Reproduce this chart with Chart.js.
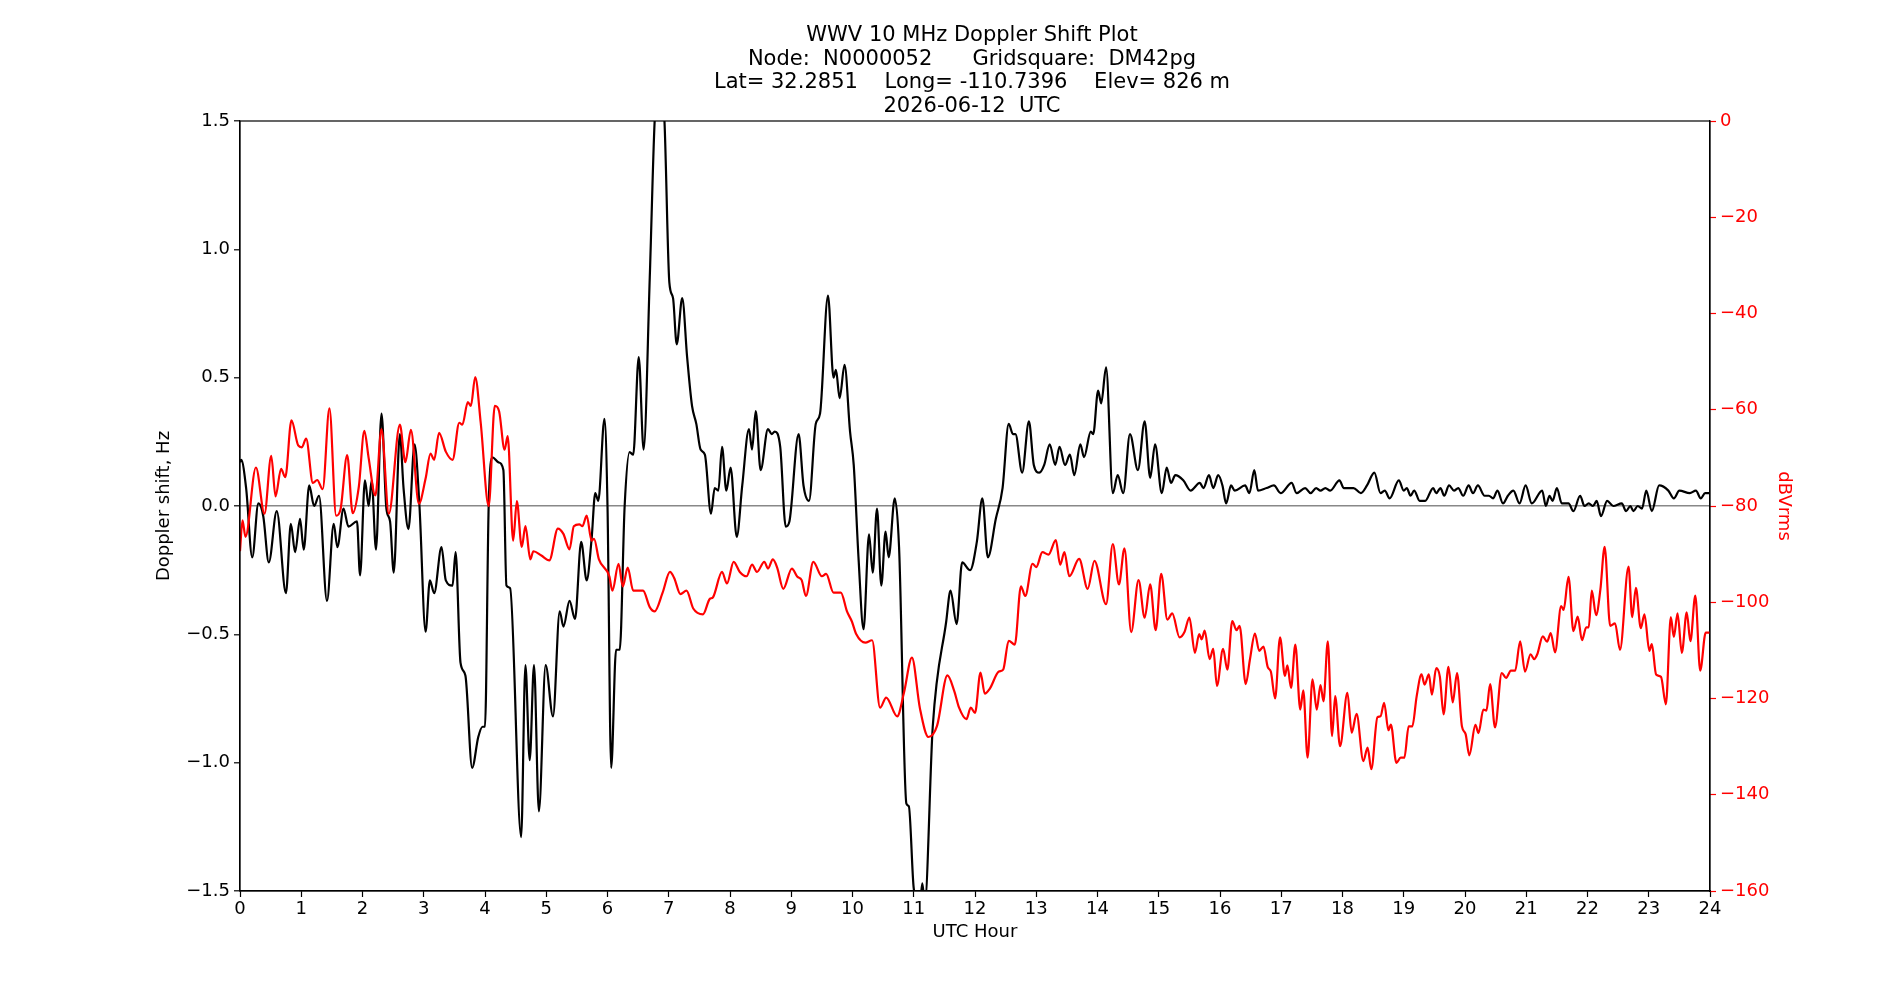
<!DOCTYPE html>
<html>
<head>
<meta charset="utf-8">
<script src="https://cdn.jsdelivr.net/npm/chart.js@4.4.1/dist/chart.umd.min.js"></script>
<style>
  body { margin: 0; background: #fff; }
  #wrap { position: relative; width: 1900px; height: 1000px; }
  #title { position: absolute; left: 672px; width: 600px; top: 23px; text-align: center;
           font-family: "DejaVu Sans", sans-serif; font-size: 21px; line-height: 23.5px; color: #000; }
  canvas { position: absolute; left: 0; top: 0; }
</style>
</head>
<body>
<div id="wrap">
  <canvas id="dopplerChart" width="1900" height="1000"></canvas>
  <div id="title">WWV 10 MHz Doppler Shift Plot<br>Node:&nbsp; N0000052 &nbsp;&nbsp;&nbsp;&nbsp; Gridsquare:&nbsp; DM42pg<br>Lat= 32.2851 &nbsp;&nbsp;&nbsp;Long= -110.7396 &nbsp;&nbsp;&nbsp;Elev= 826 m<br>2026-06-12&nbsp; UTC</div>
</div>
<script>
// Doppler shift (Hz)
const dopHours = [0.0,0.02,0.1,0.2,0.3,0.38,0.47,0.6,0.75,0.83,0.9,0.98,1.04,1.13,1.21,1.29,1.42,1.53,1.59,1.69,1.77,1.91,1.96,2.04,2.1,2.15,2.22,2.31,2.39,2.45,2.51,2.61,2.67,2.75,2.85,2.93,3.03,3.1,3.17,3.29,3.36,3.47,3.52,3.6,3.68,3.79,3.89,3.96,4.0,4.06,4.12,4.22,4.3,4.35,4.41,4.59,4.66,4.73,4.8,4.88,4.99,5.11,5.22,5.28,5.38,5.47,5.57,5.66,5.74,5.8,5.85,5.95,6.0,6.06,6.14,6.2,6.28,6.36,6.42,6.51,6.59,6.69,6.77,6.85,6.93,7.01,7.07,7.13,7.22,7.3,7.38,7.45,7.52,7.59,7.69,7.75,7.81,7.87,7.94,8.01,8.11,8.2,8.31,8.36,8.42,8.5,8.62,8.68,8.73,8.82,8.91,8.97,9.12,9.2,9.29,9.4,9.47,9.6,9.69,9.73,9.79,9.87,9.96,10.02,10.1,10.18,10.27,10.33,10.4,10.47,10.54,10.59,10.69,10.76,10.88,10.92,11.0,11.1,11.14,11.18,11.31,11.53,11.6,11.7,11.79,11.92,12.03,12.12,12.21,12.34,12.45,12.55,12.62,12.66,12.77,12.88,12.96,13.05,13.13,13.22,13.31,13.38,13.47,13.55,13.62,13.72,13.78,13.89,13.93,14.01,14.06,14.14,14.25,14.33,14.42,14.53,14.66,14.77,14.86,14.94,15.05,15.13,15.2,15.27,15.4,15.52,15.67,15.73,15.82,15.89,15.97,16.04,16.1,16.18,16.24,16.41,16.48,16.56,16.62,16.76,16.88,16.99,17.17,17.25,17.39,17.48,17.57,17.64,17.72,17.8,17.95,18.02,18.18,18.3,18.4,18.52,18.62,18.69,18.77,18.92,19.0,19.05,19.11,19.17,19.26,19.35,19.48,19.53,19.6,19.66,19.74,19.82,19.89,19.97,20.06,20.13,20.21,20.32,20.39,20.46,20.53,20.62,20.7,20.79,20.89,20.99,21.09,21.26,21.32,21.38,21.43,21.5,21.58,21.69,21.77,21.88,21.95,22.02,22.09,22.15,22.22,22.32,22.42,22.56,22.63,22.7,22.75,22.82,22.89,22.96,23.05,23.17,23.32,23.41,23.5,23.67,23.77,23.85,23.92,24.0];
const dopShift = [0.17,0.18,0.07,-0.2,0.01,-0.04,-0.22,-0.02,-0.34,-0.07,-0.18,-0.05,-0.17,0.08,0.0,0.04,-0.37,-0.07,-0.16,-0.01,-0.08,-0.06,-0.27,0.1,0.0,0.1,-0.17,0.36,-0.01,-0.06,-0.26,0.28,0.07,-0.09,0.24,0.0,-0.49,-0.29,-0.34,-0.16,-0.29,-0.31,-0.18,-0.61,-0.66,-1.02,-0.9,-0.86,-0.86,0.0,0.19,0.17,0.14,-0.31,-0.32,-1.29,-0.62,-0.99,-0.62,-1.19,-0.62,-0.82,-0.41,-0.47,-0.37,-0.44,-0.14,-0.29,-0.13,0.05,0.02,0.34,0.0,-1.02,-0.56,-0.56,0.0,0.21,0.2,0.58,0.22,0.89,1.5,1.7,1.5,0.87,0.81,0.63,0.81,0.58,0.39,0.32,0.22,0.2,-0.03,0.07,0.06,0.23,0.06,0.15,-0.12,0.08,0.3,0.22,0.37,0.14,0.3,0.28,0.29,0.23,-0.08,-0.06,0.28,0.08,0.02,0.32,0.36,0.82,0.5,0.53,0.42,0.55,0.29,0.16,-0.21,-0.48,-0.11,-0.26,-0.01,-0.31,-0.1,-0.2,0.03,-0.16,-1.16,-1.17,-1.49,-1.55,-1.47,-1.55,-0.86,-0.45,-0.33,-0.46,-0.22,-0.25,-0.14,0.03,-0.2,-0.05,0.07,0.32,0.28,0.28,0.13,0.33,0.16,0.13,0.16,0.24,0.16,0.23,0.16,0.2,0.12,0.24,0.19,0.29,0.28,0.45,0.4,0.54,0.05,0.12,0.05,0.28,0.14,0.33,0.11,0.24,0.05,0.15,0.09,0.12,0.1,0.06,0.09,0.07,0.12,0.07,0.12,0.08,0.01,0.08,0.06,0.08,0.05,0.14,0.06,0.07,0.08,0.05,0.09,0.05,0.07,0.05,0.07,0.06,0.07,0.06,0.1,0.07,0.07,0.05,0.08,0.13,0.05,0.06,0.03,0.1,0.06,0.07,0.04,0.06,0.02,0.02,0.07,0.05,0.07,0.04,0.08,0.06,0.07,0.04,0.08,0.05,0.08,0.04,0.04,0.03,0.06,0.01,0.04,0.06,0.01,0.08,0.01,0.06,0.0,0.04,0.02,0.07,0.01,0.01,-0.02,0.04,0.0,0.01,0.0,0.02,-0.04,0.02,0.0,0.01,-0.02,0.0,-0.02,0.0,-0.01,0.06,-0.02,0.08,0.06,0.03,0.06,0.05,0.06,0.03,0.05,0.05];

// Received power (dBVrms)
const pwrHours = [0.0,0.04,0.09,0.26,0.4,0.51,0.58,0.67,0.74,0.84,0.95,1.01,1.08,1.19,1.26,1.35,1.46,1.57,1.64,1.75,1.84,1.94,2.03,2.1,2.21,2.31,2.43,2.61,2.7,2.79,2.92,3.03,3.11,3.17,3.25,3.36,3.47,3.58,3.63,3.72,3.77,3.84,3.93,4.06,4.16,4.23,4.32,4.37,4.46,4.52,4.6,4.66,4.74,4.79,4.92,5.05,5.19,5.28,5.38,5.45,5.54,5.59,5.66,5.74,5.78,5.86,6.03,6.08,6.18,6.25,6.33,6.42,6.58,6.69,6.77,6.9,7.02,7.09,7.19,7.29,7.4,7.56,7.67,7.72,7.87,7.95,8.06,8.16,8.27,8.36,8.44,8.56,8.62,8.7,8.77,8.87,9.01,9.1,9.17,9.24,9.36,9.5,9.57,9.69,9.81,9.91,9.99,10.06,10.21,10.32,10.45,10.55,10.73,10.84,10.97,11.1,11.24,11.38,11.55,11.66,11.74,11.86,11.93,12.0,12.09,12.16,12.24,12.39,12.46,12.55,12.65,12.75,12.82,12.94,13.0,13.1,13.2,13.32,13.39,13.46,13.54,13.7,13.84,13.95,14.14,14.25,14.35,14.44,14.55,14.67,14.77,14.86,14.95,15.04,15.14,15.22,15.34,15.42,15.5,15.59,15.66,15.7,15.75,15.83,15.89,15.95,16.05,16.12,16.2,16.27,16.32,16.42,16.49,16.57,16.64,16.71,16.78,16.83,16.9,16.98,17.06,17.1,17.16,17.23,17.31,17.36,17.43,17.51,17.58,17.64,17.69,17.76,17.83,17.88,17.96,18.08,18.15,18.23,18.34,18.41,18.47,18.57,18.62,18.68,18.75,18.79,18.88,18.95,19.01,19.08,19.14,19.21,19.29,19.34,19.41,19.46,19.53,19.59,19.65,19.73,19.8,19.87,19.95,20.01,20.07,20.17,20.22,20.3,20.35,20.41,20.49,20.6,20.67,20.75,20.82,20.9,20.98,21.07,21.13,21.18,21.27,21.34,21.4,21.47,21.57,21.61,21.69,21.77,21.84,21.91,21.98,22.02,22.07,22.14,22.21,22.28,22.37,22.45,22.53,22.67,22.73,22.79,22.87,22.93,23.01,23.05,23.12,23.2,23.28,23.36,23.41,23.47,23.54,23.62,23.68,23.76,23.84,23.93,24.0];
const pwrDb = [-89.4,-83,-86.4,-72,-81.6,-69.6,-78,-72.3,-74,-62.2,-67.4,-67.8,-66,-75.2,-74.6,-76.5,-59.7,-82,-80.8,-69.4,-81.5,-76,-64.4,-70,-77.8,-64,-81.6,-63.1,-70.9,-64.2,-79.5,-74.3,-69.1,-70.4,-64.8,-68.7,-70.4,-62.7,-63.1,-58.4,-59.2,-53.2,-62.7,-80,-59.2,-60.3,-68.3,-65.5,-87.2,-79,-88.5,-84.2,-91.1,-89.4,-90.3,-91.3,-84.7,-85.8,-89,-84.2,-83.8,-84.2,-82,-87.2,-86.8,-91.1,-94.6,-97.6,-92,-96.7,-92.8,-97.6,-97.6,-101,-101.9,-98,-93.7,-95,-98.3,-97.6,-101.3,-102.5,-99.3,-99,-93.7,-96.1,-91.6,-93.7,-94.6,-92.2,-93.7,-91.6,-93,-91.1,-92.8,-97.2,-93,-94.7,-95.4,-98.7,-91.6,-94.6,-94.1,-98,-98,-101.9,-104,-106.6,-108.4,-107.9,-121.9,-119.8,-123.7,-118.8,-111.5,-122,-128,-125.7,-115.2,-118.4,-121.9,-124.3,-121.9,-123,-114.6,-119,-118,-114.4,-114,-108,-108.8,-96.7,-98.7,-92,-92.7,-89.6,-90.1,-87.1,-92.2,-89.6,-94.6,-91,-97.2,-91.4,-100.4,-87.9,-96.3,-88.8,-106.2,-95.4,-103.2,-96.3,-105.8,-94.1,-103.6,-102.3,-107.3,-106.2,-103.2,-110.5,-106.6,-107.7,-105.9,-111.8,-109.7,-117.4,-109.7,-114,-103.9,-105.8,-104.9,-117,-111.8,-106.5,-110.1,-109.2,-113.5,-114.4,-120,-107.3,-115.3,-113.1,-117.8,-108.8,-122.3,-118.3,-132.3,-116,-122.3,-117.2,-120.6,-108.1,-127.8,-119.5,-129.9,-118.8,-127.1,-123.2,-133,-130.2,-134.7,-123.9,-123.7,-120.9,-126.6,-125.4,-133.4,-132.3,-132.3,-125.8,-125.8,-119.6,-115,-117.1,-115,-119.2,-113.7,-115.5,-123.3,-113.4,-120.8,-114.7,-125.8,-127.4,-131.8,-125.5,-127.2,-122.3,-122.5,-117,-126,-114.7,-115.7,-114.2,-114.2,-108.1,-114.4,-110.8,-111.8,-110.8,-107.1,-108.2,-106.4,-110.4,-100.8,-101.6,-94.7,-106,-103,-107.9,-105.2,-105.2,-97.6,-102.7,-97.4,-88.5,-104.9,-104.4,-109.9,-92.6,-103.1,-97,-105.4,-102.5,-110.1,-108.7,-115,-115.5,-121.2,-103.1,-107.2,-102.3,-110.5,-102.1,-108.1,-98.6,-114.2,-106.3,-106.3];

const hourTicks = [0,1,2,3,4,5,6,7,8,9,10,11,12,13,14,15,16,17,18,19,20,21,22,23,24];

const FONT = { family: 'DejaVu Sans', size: 18 };
const minus = (s) => s.replace('-', '\u2212');

const frameBox = {
    id: 'frameBox',
    afterDatasetsDraw(chart) {
        const a = chart.chartArea, ctx = chart.ctx;
        ctx.save();
        ctx.strokeStyle = '#000';
        ctx.lineWidth = 1.2;
        ctx.strokeRect(a.left, a.top, a.right - a.left, a.bottom - a.top);
        ctx.restore();
    }
};

function initChart() {
    const ctx = document.getElementById('dopplerChart').getContext('2d');
    new Chart(ctx, {
        type: 'line',
        data: {
            datasets: [{
                label: 'Doppler shift',
                data: dopHours.map((h, i) => ({ x: h, y: dopShift[i] })),
                borderColor: '#000',
                borderWidth: 2.2,
                pointRadius: 0,
                cubicInterpolationMode: 'monotone',
                yAxisID: 'y',
                order: 2
            }, {
                label: 'dBVrms',
                data: pwrHours.map((h, i) => ({ x: h, y: pwrDb[i] })),
                borderColor: '#ff0000',
                borderWidth: 2.2,
                pointRadius: 0,
                cubicInterpolationMode: 'monotone',
                yAxisID: 'y2',
                order: 1
            }]
        },
        options: {
            responsive: false,
            animation: false,
            layout: { padding: { left: 150, right: 102, top: 121, bottom: 57 } },
            plugins: { legend: { display: false }, tooltip: { enabled: false } },
            scales: {
                x: {
                    type: 'linear', min: 0, max: 24,
                    afterBuildTicks: (s) => { s.ticks = hourTicks.map(v => ({ value: v })); },
                    afterFit: (s) => { s.height = 52; },
                    grid: { drawOnChartArea: false, tickLength: 6, tickColor: '#000', tickWidth: 1.2 },
                    border: { color: '#000', width: 1.2 },
                    ticks: { color: '#000', font: FONT, padding: 2, maxRotation: 0 },
                    title: { display: true, text: 'UTC Hour', color: '#000', font: FONT, padding: 0 }
                },
                y: {
                    position: 'left', min: -1.5, max: 1.5,
                    afterFit: (s) => { s.width = 90; },
                    grid: {
                        drawOnChartArea: true,
                        color: (c) => (c.tick && c.tick.value === 0) ? '#888888' : 'rgba(0,0,0,0)',
                        lineWidth: 1.6,
                        tickLength: 6, tickColor: '#000', tickWidth: 1.2
                    },
                    border: { color: '#000', width: 1.2 },
                    ticks: { stepSize: 0.5, color: '#000', font: FONT, padding: 4,
                             callback: (v) => minus(v.toFixed(1)) },
                    title: { display: true, text: 'Doppler shift, Hz', color: '#000', font: FONT, padding: 4 }
                },
                y2: {
                    position: 'right', min: -160, max: 0,
                    afterFit: (s) => { s.width = 88; },
                    grid: { drawOnChartArea: false, tickLength: 6, tickColor: '#ff0000', tickWidth: 1.2 },
                    border: { color: '#000', width: 1.2 },
                    ticks: { stepSize: 20, color: '#ff0000', font: FONT, padding: 4,
                             callback: (v) => minus(String(v)) },
                    title: { display: true, text: 'dBVrms', color: '#ff0000', font: FONT, padding: 4 }
                }
            }
        },
        plugins: [frameBox]
    });
}

document.addEventListener('DOMContentLoaded', initChart);
</script>
</body>
</html>
